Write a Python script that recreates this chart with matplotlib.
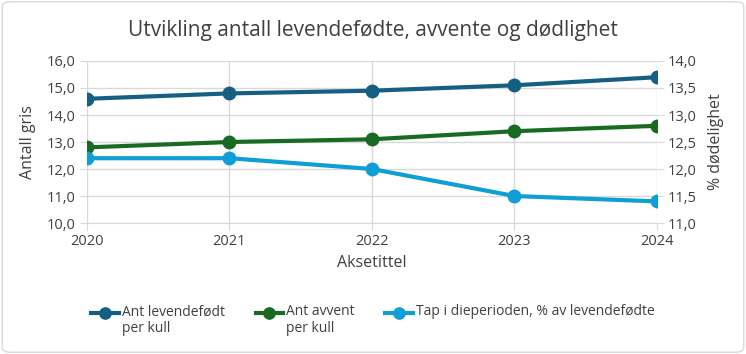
import matplotlib.pyplot as plt
from matplotlib.patches import FancyBboxPatch
from matplotlib.ticker import FuncFormatter
from matplotlib.legend_handler import HandlerLine2D

# Data
years = [2020, 2021, 2022, 2023, 2024]
levendefodt = [14.6, 14.8, 14.9, 15.1, 15.4]
avvent = [12.8, 13.0, 13.1, 13.4, 13.6]
tap_pct = [12.2, 12.2, 12.0, 11.5, 11.4]

plt.rcParams['font.family'] = ['Open Sans', 'DejaVu Sans']

c_dark = '#156082'
c_green = '#196B24'
c_light = '#0F9ED5'
c_text = '#404040'
c_grid = '#d9d9d9'


# legend handle next to the first line of a two-line label
class TopHandler(HandlerLine2D):
    def create_artists(self, legend, orig_handle, xdescent, ydescent, width, height, fontsize, trans):
        return super().create_artists(legend, orig_handle, xdescent, ydescent - 1.2 * fontsize,
                                      width, height, fontsize, trans)


fig = plt.figure(figsize=(7.46, 3.54), dpi=100)
ax = fig.add_axes([0.1166, 0.370, 0.7641, 0.4577])
ax2 = ax.twinx()

comma = FuncFormatter(lambda v, p: f"{v:.1f}".replace('.', ','))

l1, = ax.plot(years, levendefodt, color=c_dark, lw=3, marker='o', ms=9, label='Ant levendefødt\nper kull', zorder=3)
l2, = ax.plot(years, avvent, color=c_green, lw=3, marker='o', ms=9, label='Ant avvent\nper kull', zorder=3)
l3, = ax2.plot(years, tap_pct, color=c_light, lw=3, marker='o', ms=9, label='Tap i dieperioden, % av levendefødte\n ', zorder=3)

ax.set_xlim(2020, 2024)
ax.set_ylim(10, 16)
ax2.set_ylim(11, 14)
ax.set_xticks(years)
ax.set_yticks([10, 11, 12, 13, 14, 15, 16])
ax2.set_yticks([11, 11.5, 12, 12.5, 13, 13.5, 14])
ax.yaxis.set_major_formatter(comma)
ax2.yaxis.set_major_formatter(comma)

ax.grid(True, color=c_grid, lw=1)
ax.set_axisbelow(True)
for a in (ax, ax2):
    for s in a.spines.values():
        s.set_visible(False)
    a.tick_params(colors=c_text, labelsize=10.5)
    a.tick_params(axis='y', length=5, color=c_grid, pad=3)
ax.tick_params(axis='x', length=5, color=c_grid, pad=3)
ax.spines['bottom'].set_visible(True)
ax.spines['bottom'].set_color(c_grid)

ax.set_ylabel('Antall gris', color=c_text, fontsize=11.5, labelpad=8)
ax2.set_ylabel('% dødelighet', color=c_text, fontsize=11.5, labelpad=8)
ax.set_xlabel('Aksetittel', color=c_text, fontsize=11.5, labelpad=4)

fig.text(0.5, 0.915, 'Utvikling antall levendefødte, avvente og dødlighet',
         ha='center', va='center', fontsize=15, color=c_text)

top = TopHandler()
fig.legend(handles=[l1, l2, l3], loc='center', bbox_to_anchor=(0.5, 0.095), ncol=3,
           frameon=False, fontsize=10, labelcolor=c_text, handlelength=2.0,
           handletextpad=0.2, columnspacing=2.2, markerscale=0.9,
           handler_map={l1: top, l2: top, l3: top})

border = FancyBboxPatch((0.003, 0.005), 0.994, 0.99, boxstyle='round,pad=0,rounding_size=0.012',
                        transform=fig.transFigure, fill=False, edgecolor='#d9d9d9', lw=1)
fig.patches.append(border)

fig.savefig('out.png', dpi=100)
